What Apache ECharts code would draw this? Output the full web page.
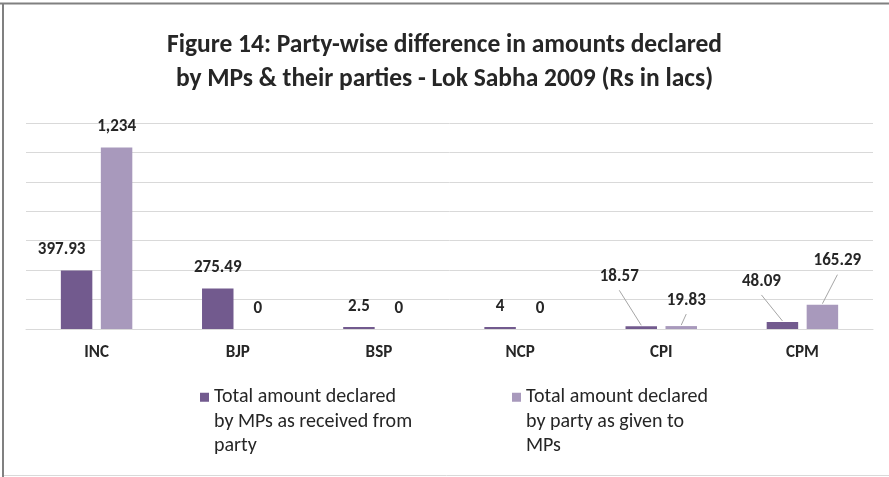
<!DOCTYPE html>
<html>
<head>
<meta charset="utf-8">
<script src="https://cdn.jsdelivr.net/npm/echarts@6/dist/echarts.min.js"></script>
<style>
html,body{margin:0;padding:0;background:#fff;}
#chart{width:889px;height:477px;}
</style>
</head>
<body>
<div id="chart"></div>
<script>
// ---- data ----
const categories = ['INC', 'BJP', 'BSP', 'NCP', 'CPI', 'CPM'];
const mpDeclared = [397.93, 275.49, 2.5, 4, 18.57, 48.09];
const partyDeclared = [1234, 0, 0, 0, 19.83, 165.29];
const seriesNames = [
  'Total amount declared\nby MPs as received from\nparty',
  'Total amount declared\nby party as given to\nMPs'
];
const yTicks = { min: 0, max: 1400, interval: 200 };
const titleText = 'Figure 14: Party-wise difference in amounts declared\nby MPs & their parties - Lok Sabha 2009 (Rs in lacs)';

// ---- styling ----
const FONT = 'Carlito, Lato, sans-serif';
const TXT = '#262626';
const DARK = '#725a8e';
const LIGHT = '#a899bc';
const BAR_W = 0.223, BAR_GAP = 0.27, LABEL_DIST = 12, MIN_H = 2;
// label nudges (styling only): [dx, dy] per data index; "lead" = draw leader line
const mpLabelNudge = { 0: { d: [-15, 0] }, 4: { d: [-22, -29], lead: true }, 5: { d: [-21, -20], lead: true } };
const partyLabelNudge = { 4: { d: [5, -5], lead: true }, 5: { d: [15, -23], lead: true } };

function fmt(p) { return Number(p.value).toLocaleString('en-US'); }
function layoutFor(nudges) {
  return function (p) {
    const n = nudges[p.dataIndex];
    return n ? { dx: n.d[0], dy: n.d[1] } : {};
  };
}
function leaderItems(values, nudges, side) {
  const out = [];
  values.forEach((v, i) => {
    const n = nudges[i];
    if (n && n.lead) out.push([i, v, side, n.d[0], n.d[1]]);
  });
  return out;
}
const leaderData = leaderItems(mpDeclared, mpLabelNudge, 0).concat(leaderItems(partyDeclared, partyLabelNudge, 1));

const chart = echarts.init(document.getElementById('chart'), null, { renderer: 'canvas' });
const labelBase = {
  show: true, position: 'top', distance: LABEL_DIST, formatter: fmt,
  fontFamily: FONT, fontSize: 17, fontWeight: 'bold', color: TXT
};
const legendBase = {
  orient: 'horizontal', top: 385, padding: 0,
  itemWidth: 9, itemHeight: 58,
  icon: 'path://M0,0H9V9H0Z M0,57.99H0.01V58H0Z',
  textStyle: { fontFamily: FONT, fontSize: 20, color: TXT, lineHeight: 24.5 },
  itemGap: 6
};

chart.setOption({
  animation: false,
  backgroundColor: '#fff',
  title: {
    text: titleText, left: 'center', top: 24,
    textStyle: { fontFamily: FONT, fontSize: 25.5, fontWeight: 'bold', color: TXT, lineHeight: 34 }
  },
  legend: [
    Object.assign({}, legendBase, { left: 200, data: [seriesNames[0]] }),
    Object.assign({}, legendBase, { left: 512, data: [seriesNames[1]] })
  ],
  grid: { left: 26, right: 16, top: 123, bottom: 148 },
  xAxis: {
    type: 'category', data: categories,
    axisLine: { lineStyle: { color: '#d9d9d9', width: 1 } },
    axisTick: { show: false },
    axisLabel: { fontFamily: FONT, fontSize: 17, fontWeight: 'bold', color: TXT, margin: 15 }
  },
  yAxis: {
    type: 'value', min: yTicks.min, max: yTicks.max, interval: yTicks.interval,
    axisLabel: { show: false }, axisLine: { show: false }, axisTick: { show: false },
    splitLine: { lineStyle: { color: '#d9d9d9', width: 1 } }
  },
  graphic: [
    { type: 'line', shape: { x1: 0, y1: 3.5, x2: 889, y2: 3.5 }, style: { stroke: '#808080', lineWidth: 2 }, silent: true },
    { type: 'line', shape: { x1: 3, y1: 3, x2: 3, y2: 477 }, style: { stroke: '#808080', lineWidth: 2 }, silent: true },
    { type: 'line', shape: { x1: 4, y1: 475.5, x2: 889, y2: 475.5 }, style: { stroke: '#d9d9d9', lineWidth: 1 }, silent: true }
  ],
  series: [
    {
      name: seriesNames[0], type: 'bar', data: mpDeclared,
      barWidth: (BAR_W * 100) + '%', barGap: (BAR_GAP * 100) + '%', barMinHeight: MIN_H,
      itemStyle: { color: DARK }, label: labelBase, labelLayout: layoutFor(mpLabelNudge)
    },
    {
      name: seriesNames[1], type: 'bar', data: partyDeclared,
      barWidth: (BAR_W * 100) + '%', barGap: (BAR_GAP * 100) + '%',
      itemStyle: { color: LIGHT }, label: labelBase, labelLayout: layoutFor(partyLabelNudge)
    },
    {
      name: 'leaders', type: 'custom', coordinateSystem: 'cartesian2d', silent: true, z: 1,
      data: leaderData, encode: { x: 0, y: 1 },
      renderItem: function (params, api) {
        const cat = api.value(0), v = api.value(1), side = api.value(2);
        const dx = api.value(3), dy = api.value(4);
        const top = api.coord([cat, v]);
        const base = api.coord([cat, 0]);
        const band = api.size([1, 0])[0];
        const bw = band * BAR_W, gap = bw * BAR_GAP, off = (bw + gap) / 2;
        const bx = top[0] + (side ? off : -off);
        const barTop = Math.min(top[1], base[1] - MIN_H);
        const lx = bx + dx, ly = barTop - 22 + dy;
        return {
          type: 'line',
          shape: { x1: lx, y1: ly + 15, x2: bx, y2: barTop - 1 },
          style: { stroke: '#a6a6a6', lineWidth: 1 }
        };
      }
    }
  ]
});
</script>
</body>
</html>
